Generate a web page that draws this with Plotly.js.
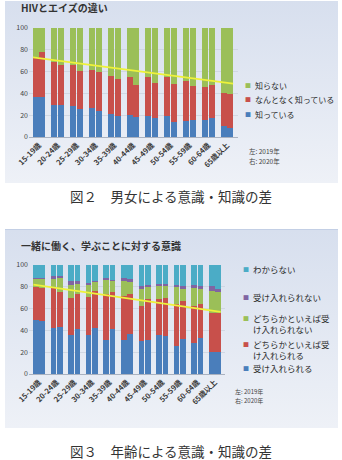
<!DOCTYPE html>
<html>
<head>
<meta charset="utf-8">
<script src="https://cdn.plot.ly/plotly-3.0.1.min.js"></script>
<style>
  body { margin:0; width:342px; height:460px; background:#fff; position:relative; overflow:hidden;
         font-family:"Noto Sans CJK JP","Noto Sans",sans-serif; }
  .panel { position:absolute; left:5px; width:333px; background:linear-gradient(#d7dfee,#eef1f7); }
  #p1 { top:1px; height:182px; }
  #p2 { top:229px; height:198px; border-top:1px solid #c3cfe5; }
  .cap { position:absolute; left:0; width:342px; text-align:center; font-size:13.5px; line-height:14px; color:#333; }
  .ttl { position:absolute; left:21px; font-size:10px; line-height:12px; font-weight:bold; color:#333; white-space:nowrap; }
</style>
</head>
<body>
<div id="p1" class="panel"></div>
<div class="ttl" style="top:1.5px">HIVとエイズの違い</div>
<div class="cap" style="top:189px">図２　男女による意識・知識の差</div>
<div id="p2" class="panel"></div>
<div class="ttl" style="top:239.5px">一緒に働く、学ぶことに対する意識</div>
<div class="cap" style="top:444px">図３　年齢による意識・知識の差</div>
<script>
// Age groups (x categories) and survey years (left bar / right bar)
const ages = ['15-19歳','20-24歳','25-29歳','30-34歳','35-39歳','40-44歳','45-49歳','50-54歳','55-59歳','60-64歳','65歳以上'];
const years = ['2019年','2020年'];

// HIVとエイズの違い (%)
const knowNames = ['知っている','なんとなく知っている','知らない'];
const know2019 = [37,29,28,27,21,20,19,19,15,15.5,10];
const know2020 = [37,29,26,23.5,19,18,17,14,15.5,17,8.5];
const vague2019 = [36,40,38,34.5,35,35,36,36,36,30.5,30.5];
const vague2020 = [41,37,35,36.5,34,30,33,34.5,31.5,31,31];
const unknown2019 = [27,31,34,38.5,44,45,45,45,49,54,59.5];
const unknown2020 = [22,34,39,40,47,52,50,51.5,53,52,60.5];
const knowTrend = [73,49];

// 一緒に働く、学ぶことに対する意識 (%)
const attNames = ['受け入れられる','どちらかといえば受<br>け入れられる','どちらかといえば受<br>け入れられない','受け入れられない','わからない'];
const accept2019 = [50,42.5,36,36,31,31,30.5,35.5,26,28,20];
const accept2020 = [49,43,41,42.5,41.5,36.5,31,34.5,32,33,20];
const ratherAccept2019 = [30,37.5,34,35,42,41,32,33,38,34.5,36];
const ratherAccept2020 = [30,32,32,33.5,33.5,36.5,38,35.5,35,31,36];
const ratherReject2019 = [7,7,12,11,13,13,15.5,12.5,16,16.5,20];
const ratherReject2020 = [8,13,10,8,10,11.5,11,11,11,14,19];
const reject2019 = [1,3,3,1.5,2,3,3,2,2,3,5];
const reject2020 = [1,2,2,1.5,1,2.5,2,1.5,3,3,3];
const unsure2019 = [12,10,15,16.5,12,12,19,17,18,18,19];
const unsure2020 = [12,10,15,14.5,14,13,18,17.5,19,19,22];
const attTrend = [82,57];

const FONT = '"Noto Sans CJK JP","Noto Sans",sans-serif';

function drawChart(cfg) {
  const idx = ages.map((_, i) => i);
  const off = 0.18, bw = 0.32;
  // left bar = 2019, right bar = 2020, stacked per position
  const xs = idx.map(i => i - off).concat(idx.map(i => i + off));
  const traces = cfg.series.map((s, k) => ({
    type:'bar', x:xs, y:s[0].concat(s[1]), width:bw,
    marker:{color:cfg.colors[k]}, hoverinfo:'skip', showlegend:false
  }));
  traces.push({
    type:'scatter', mode:'lines',
    x:[idx[0] - off - bw/2 + 0.02, idx[idx.length-1] + off + bw/2 - 0.02], y:cfg.trend,
    line:{color:'#eef23a', width:1.8}, hoverinfo:'skip', showlegend:false
  });

  const m = cfg.margin, W = 333, H = cfg.height;
  const pw = W - m.l - m.r, ph = H - m.t - m.b;
  const X = px => (px - 5 - m.l) / pw;           // page px -> paper x
  const Y = py => 1 - (py - cfg.top - m.t) / ph;  // page px -> paper y

  const ann = [];
  cfg.legend.forEach(e => {
    ann.push({xref:'paper', yref:'paper', x:X(cfg.legX), y:Y(e.y), xanchor:'center', yanchor:'middle',
      text:'■', showarrow:false, font:{family:FONT, size:6, color:cfg.colors[e.k]}});
    const lines = cfg.names[e.k].split('<br>').length;
    ann.push({xref:'paper', yref:'paper', x:X(cfg.legX + 5), y:Y(e.y + (lines - 1) * cfg.legFont * 0.65),
      xanchor:'left', yanchor:'middle', align:'left', text:cfg.names[e.k], showarrow:false,
      font:{family:FONT, size:cfg.legFont, color:'#2a2a2a'}});
  });
  cfg.notes.forEach((t, j) => {
    ann.push({xref:'paper', yref:'paper', x:X(cfg.noteX), y:Y(cfg.noteY[j]), xanchor:'left', yanchor:'middle',
      text:t, showarrow:false, font:{family:FONT, size:cfg.noteFont, color:'#444'}});
  });

  const layout = {
    width:W, height:H, margin:m,
    paper_bgcolor:'rgba(0,0,0,0)', plot_bgcolor:'rgba(0,0,0,0)',
    barmode:'stack', showlegend:false,
    xaxis:{range:cfg.xrange, tickvals:idx, ticktext:ages, tickangle:-45, showgrid:false, zeroline:false,
      showline:true, linecolor:'#aab2c0', linewidth:1, ticks:'',
      tickfont:{family:FONT, size:7.5, weight:'bold', color:'#3a3a3a'}},
    yaxis:{range:[0,100], tickvals:[0,20,40,60,80,100], showgrid:true, gridcolor:'#c9d0db', gridwidth:0.7,
      zeroline:false, showline:false, ticks:'', tickfont:{family:FONT, size:7, color:'#444'}},
    annotations:ann
  };
  Plotly.newPlot(cfg.id, traces, layout, {staticPlot:true, displayModeBar:false});
}

drawChart({
  id:'p1', top:1, height:182, margin:{l:24, r:100, t:27, b:46, pad:0},
  xrange:[-0.53, 10.58],
  series:[[know2019, know2020],[vague2019, vague2020],[unknown2019, unknown2020]],
  colors:['#4a7ebb','#c8504b','#9bbf58'], names:knowNames, trend:knowTrend,
  legX:248, legFont:8,
  legend:[{k:2, y:85},{k:1, y:99.5},{k:0, y:114}],
  notes:['左: ' + years[0], '右: ' + years[1]], noteX:247, noteY:[151,161], noteFont:6.5
});

drawChart({
  id:'p2', top:229, height:198, margin:{l:24, r:113, t:35, b:54, pad:0},
  xrange:[-0.57, 10.57],
  series:[[accept2019, accept2020],[ratherAccept2019, ratherAccept2020],[ratherReject2019, ratherReject2020],
          [reject2019, reject2020],[unsure2019, unsure2020]],
  colors:['#4a7ebb','#c8504b','#9bbf58','#8064a2','#4bacc6'], names:attNames, trend:attTrend,
  legX:246, legFont:8.5,
  legend:[{k:4, y:268},{k:3, y:296},{k:2, y:317},{k:1, y:343},{k:0, y:367}],
  notes:['左: ' + years[0], '右: ' + years[1]], noteX:233, noteY:[390,399.5], noteFont:6
});
</script>
</body>
</html>
